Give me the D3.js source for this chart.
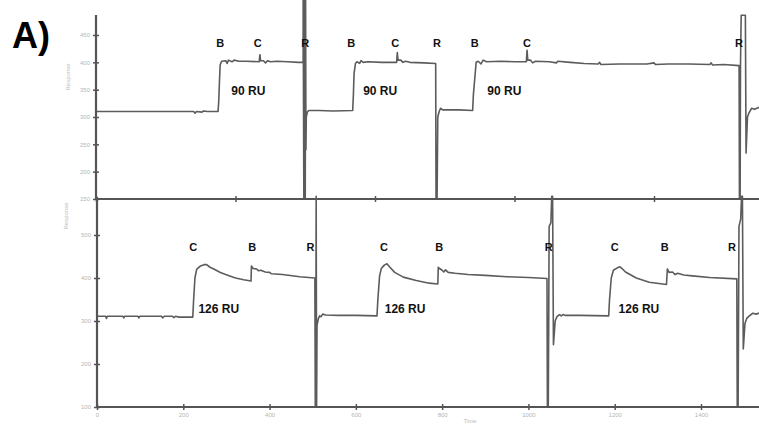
<!DOCTYPE html>
<html>
<head>
<meta charset="utf-8">
<script src="https://cdn.jsdelivr.net/npm/d3@7"></script>
<style>
  body { margin: 0; background: #fff; }
  svg { display: block; }
  .axis path, .axis line { stroke: #555; }
  .axis text { fill: #b5b5b5; font-family: Arial, "Liberation Sans", sans-serif; font-size: 6px; }
</style>
</head>
<body>
<script>
// sensorgram, top run (time, response)
var topTrace = [
  [0,310],[140,310],[142,307],[144,310],[152,309],[154,311],[160,310],[175,310],
  [176,330],[177,365],[178,395],[180,402],[186,403],[188,398],[190,404],[195,401],
  [198,404],[205,402],[215,402],[234,401],[235,414],[236,403],[240,403],[243,399],
  [246,403],[250,401],[260,402],[275,401],[290,400],[297,400],
  [297,515],[298,150],[299,515],[300,150],[300.5,515],[301,240],[301.5,300],[303,309],
  [305,312],[320,312],[340,311],[368,312],[369,340],[370,380],[372,398],[374,401],
  [378,398],[380,403],[383,400],[390,401],[410,400],[431,400],[432,418],[433,404],
  [437,404],[440,400],[444,402],[450,400],[470,399],[487,398],
  [487.5,150],[489,150],[490,300],[492,310],[494,316],[497,313],[520,313],[540,312],
  [541,340],[543,370],[545,400],[548,402],[552,397],[555,404],[560,401],[580,402],
  [600,401],[617,401],[618,422],[619,404],[623,404],[626,399],[630,402],[650,401],
  [660,399],[662,402],[680,400],[700,398],[720,397],[722,400],[724,396],[750,397],
  [790,397],[800,399],[802,396],[820,397],[850,397],[880,396],[882,399],[884,395],
  [900,396],[922,394],
  [922.5,150],[923.5,150],[924,394],[925,486],[931,486],[932,234],[934,300],[936,307],
  [940,316],[944,314],[951,318]
];

// bottom run (time, response)
var bottomTrace = [
  [0,311],[20,311],[22,306],[24,311],[60,311],[62,307],[64,311],[95,311],[97,307],
  [99,311],[150,311],[152,307],[156,311],[175,311],[178,308],[182,311],[190,309],
  [222,309],[224,350],[227,400],[231,420],[240,428],[248,431],[254,431],[262,425],
  [274,419],[286,413],[298,408],[321,400],[340,396],[357,393],
  [358,428],[362,422],[370,421],[374,417],[380,418],[390,414],[400,413],[404,410],
  [430,408],[470,403],[505,400],
  [506,100],[507,100],[508,590],[509,100],[510,290],[513,305],[516,312],[519,310],
  [523,316],[530,314],[560,313],[600,313],[649,312],
  [651,350],[655,405],[659,422],[666,430],[672,433],[678,426],[690,413],[710,402],
  [740,394],[770,388],[790,386],
  [791,425],[794,422],[800,418],[804,414],[808,419],[814,413],[830,411],[860,408],
  [900,406],[950,403],[1000,401],[1043,399],
  [1044,100],[1046,100],[1047,300],[1048,520],[1052,528],[1054,590],[1056,590],
  [1058,245],[1062,300],[1066,310],[1072,315],[1076,312],[1080,315],[1086,313],
  [1120,313],[1186,312],
  [1188,350],[1192,400],[1197,418],[1205,423],[1212,426],[1218,421],[1225,414],
  [1250,400],[1280,390],[1320,385],
  [1322,421],[1326,413],[1334,414],[1340,408],[1346,411],[1360,407],[1380,405],
  [1420,401],[1483,398],
  [1484,100],[1486,100],[1487,300],[1488,520],[1492,537],[1494,590],[1496,590],
  [1498,235],[1502,295],[1506,306],[1512,312],[1520,318],[1528,316],[1540,320]
];

// injection / regeneration markers: [label, time]
var topMarks = [["B",178],["C",232],["R",300],["B",366],["C",429],["R",489],["B",543],["C",618],["R",922]];
var topLevels = [["90 RU",194],["90 RU",383],["90 RU",561]];
var bottomMarks = [["C",223],["B",360],["R",495],["C",665],["B",793],["R",1047],["C",1200],["B",1316],["R",1472]];
var bottomLevels = [["126 RU",235],["126 RU",667],["126 RU",1209]];

var topYTicks = [150,200,250,300,350,400,450];
var topXTicks = [0,200,400,600,800];
var bottomYTicks = [100,200,300,400,500];
var bottomXTicks = [0,200,400,600,800,1000,1200,1400];

var W = 759, H = 425;

var svg = d3.select("body").append("svg")
    .attr("width", W)
    .attr("height", H);

// scales
var xTop = d3.scaleLinear().domain([0, 800]).range([96, 654]);
var yTop = d3.scaleLinear().domain([150, 450]).range([199, 35]);
var xBot = d3.scaleLinear().domain([0, 1400]).range([97, 701]);
var yBot = d3.scaleLinear().domain([100, 500]).range([407, 235]);

function drawPanel(xs, ys, trace, xt, yt, showXLabels, x0, yTopEdge) {
  var g = svg.append("g");

  var line = d3.line()
      .x(function(d) { return xs(d[0]); })
      .y(function(d) { return ys(d[1]); });

  g.append("path")
      .datum(trace)
      .attr("fill", "none")
      .attr("stroke", "#5c5c5c")
      .attr("stroke-width", 1.6)
      .attr("stroke-linejoin", "round")
      .attr("d", line);

  // axes
  var yAxis = d3.axisLeft(ys).tickValues(yt).tickSize(3).tickPadding(3);
  var ya = g.append("g").attr("class", "axis")
      .attr("transform", "translate(" + x0 + ",0)")
      .call(yAxis);
  ya.select(".domain").remove();
  ya.selectAll(".tick line").attr("x2", 3).attr("x1", -3).attr("stroke-width", 1.5);
  ya.append("line")
      .attr("x1", 0).attr("x2", 0)
      .attr("y1", yTopEdge).attr("y2", ys.range()[0] + 1)
      .attr("stroke", "#555").attr("stroke-width", 2.2);

  var xAxis = d3.axisBottom(xs).tickValues(xt).tickSize(3).tickPadding(3)
      .tickFormat(d3.format("d"));
  var xa = g.append("g").attr("class", "axis")
      .attr("transform", "translate(0," + ys.range()[0] + ")")
      .call(xAxis);
  xa.select(".domain").remove();
  xa.selectAll(".tick line").attr("y1", -3).attr("stroke-width", 1.5);
  if (!showXLabels) xa.selectAll(".tick text").remove();
  xa.append("line")
      .attr("x1", x0).attr("x2", W)
      .attr("y1", 0).attr("y2", 0)
      .attr("stroke", "#555").attr("stroke-width", 2.2);
  return g;
}

drawPanel(xTop, yTop, topTrace, topXTicks, topYTicks, false, 96, 15);
drawPanel(xBot, yBot, bottomTrace, bottomXTicks, bottomYTicks, true, 97, 197);

// annotations
function marks(list, xs, ys, v, size, anchor) {
  svg.append("g").selectAll("text")
    .data(list)
    .enter().append("text")
      .attr("x", function(d) { return xs(d[1]); })
      .attr("y", ys(v))
      .attr("text-anchor", anchor)
      .attr("font-family", "Arial, 'Liberation Sans', sans-serif")
      .attr("font-weight", "bold")
      .attr("font-size", size)
      .attr("fill", "#111")
      .text(function(d) { return d[0]; });
}
marks(topMarks, xTop, yTop, 428, "11px", "middle");
marks(topLevels, xTop, yTop, 340, "12px", "start");
marks(bottomMarks, xBot, yBot, 463, "11px", "middle");
marks(bottomLevels, xBot, yBot, 318, "12px", "start");

// axis titles
var grey = "#bdbdbd";
svg.append("text")
    .attr("transform", "translate(70,77) rotate(-90)")
    .attr("text-anchor", "middle")
    .attr("font-family", "Arial, sans-serif").attr("font-size", "6px")
    .attr("fill", grey).text("Response");
svg.append("text")
    .attr("transform", "translate(68,216) rotate(-90)")
    .attr("text-anchor", "middle")
    .attr("font-family", "Arial, sans-serif").attr("font-size", "6px")
    .attr("fill", grey).text("Response");
svg.append("text")
    .attr("x", 470).attr("y", 423)
    .attr("text-anchor", "middle")
    .attr("font-family", "Arial, sans-serif").attr("font-size", "6px")
    .attr("fill", grey).text("Time");

svg.append("text")
    .attr("x", 12).attr("y", 48)
    .attr("font-family", "Arial, 'Liberation Sans', sans-serif")
    .attr("font-weight", "bold")
    .attr("font-size", "36px")
    .attr("fill", "#000")
    .text("A)");
</script>
</body>
</html>
